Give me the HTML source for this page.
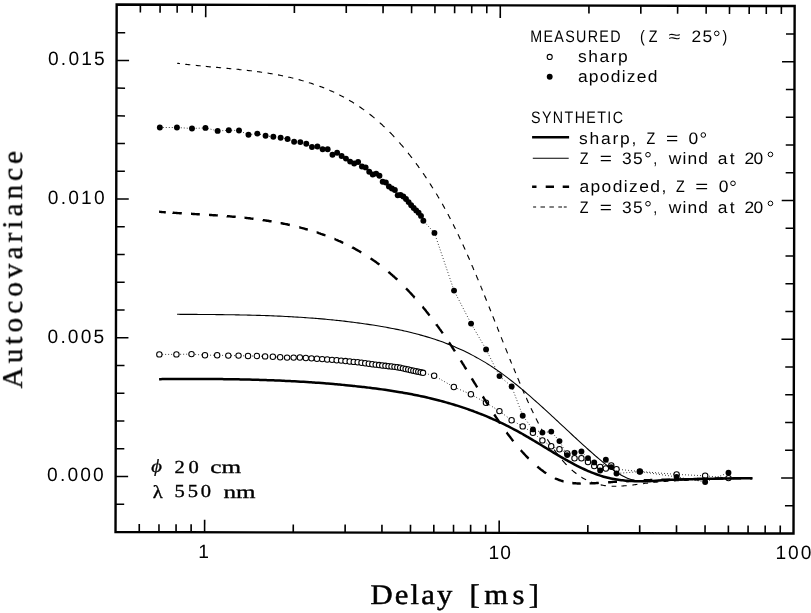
<!DOCTYPE html>
<html><head><meta charset="utf-8"><title>Autocovariance vs Delay</title>
<style>html,body{margin:0;padding:0;background:#fff;width:811px;height:613px;overflow:hidden}
svg{display:block}
.t{opacity:0.999}
.s{font-family:"Liberation Sans",sans-serif}
.r{font-family:"Liberation Serif",serif}
</style></head><body>
<svg width="811" height="613" viewBox="0 0 811 613"><rect width="811" height="613" fill="#fff"/><polygon points="116.67,4.56 794.65,6.02 793.51,533.52 115.53,532.06" fill="none" stroke="#000" stroke-width="2.4" stroke-linejoin="miter"/><g stroke="#000" stroke-linecap="butt"><line x1="140.38" y1="4.61" x2="140.36" y2="12.61" stroke-width="1.6"/><line x1="139.25" y1="532.11" x2="139.26" y2="524.11" stroke-width="1.6"/><line x1="160.1" y1="4.66" x2="160.08" y2="12.66" stroke-width="1.6"/><line x1="158.97" y1="532.15" x2="158.98" y2="524.15" stroke-width="1.6"/><line x1="177.18" y1="4.69" x2="177.16" y2="12.69" stroke-width="1.6"/><line x1="176.05" y1="532.19" x2="176.06" y2="524.19" stroke-width="1.6"/><line x1="192.25" y1="4.72" x2="192.23" y2="12.72" stroke-width="1.6"/><line x1="191.12" y1="532.22" x2="191.13" y2="524.22" stroke-width="1.6"/><line x1="205.73" y1="4.75" x2="205.7" y2="17.25" stroke-width="1.6"/><line x1="204.59" y1="532.25" x2="204.62" y2="519.75" stroke-width="1.6"/><line x1="294.4" y1="4.94" x2="294.38" y2="12.94" stroke-width="1.6"/><line x1="293.26" y1="532.44" x2="293.28" y2="524.44" stroke-width="1.6"/><line x1="346.27" y1="5.06" x2="346.25" y2="13.06" stroke-width="1.6"/><line x1="345.13" y1="532.55" x2="345.15" y2="524.55" stroke-width="1.6"/><line x1="383.07" y1="5.13" x2="383.05" y2="13.13" stroke-width="1.6"/><line x1="381.94" y1="532.63" x2="381.95" y2="524.63" stroke-width="1.6"/><line x1="411.62" y1="5.2" x2="411.6" y2="13.2" stroke-width="1.6"/><line x1="410.48" y1="532.69" x2="410.5" y2="524.69" stroke-width="1.6"/><line x1="434.94" y1="5.25" x2="434.92" y2="13.25" stroke-width="1.6"/><line x1="433.81" y1="532.74" x2="433.82" y2="524.74" stroke-width="1.6"/><line x1="454.66" y1="5.29" x2="454.64" y2="13.29" stroke-width="1.6"/><line x1="453.53" y1="532.79" x2="453.54" y2="524.79" stroke-width="1.6"/><line x1="471.74" y1="5.33" x2="471.72" y2="13.33" stroke-width="1.6"/><line x1="470.61" y1="532.82" x2="470.62" y2="524.82" stroke-width="1.6"/><line x1="486.81" y1="5.36" x2="486.79" y2="13.36" stroke-width="1.6"/><line x1="485.67" y1="532.86" x2="485.69" y2="524.86" stroke-width="1.6"/><line x1="500.29" y1="5.39" x2="500.26" y2="17.89" stroke-width="1.6"/><line x1="499.15" y1="532.89" x2="499.18" y2="520.39" stroke-width="1.6"/><line x1="588.96" y1="5.58" x2="588.94" y2="13.58" stroke-width="1.6"/><line x1="587.82" y1="533.08" x2="587.84" y2="525.08" stroke-width="1.6"/><line x1="640.83" y1="5.69" x2="640.81" y2="13.69" stroke-width="1.6"/><line x1="639.69" y1="533.19" x2="639.71" y2="525.19" stroke-width="1.6"/><line x1="677.63" y1="5.77" x2="677.61" y2="13.77" stroke-width="1.6"/><line x1="676.5" y1="533.27" x2="676.51" y2="525.27" stroke-width="1.6"/><line x1="706.18" y1="5.83" x2="706.16" y2="13.83" stroke-width="1.6"/><line x1="705.04" y1="533.33" x2="705.06" y2="525.33" stroke-width="1.6"/><line x1="729.5" y1="5.88" x2="729.48" y2="13.88" stroke-width="1.6"/><line x1="728.36" y1="533.38" x2="728.38" y2="525.38" stroke-width="1.6"/><line x1="749.22" y1="5.92" x2="749.2" y2="13.92" stroke-width="1.6"/><line x1="748.08" y1="533.42" x2="748.1" y2="525.42" stroke-width="1.6"/><line x1="766.3" y1="5.96" x2="766.28" y2="13.96" stroke-width="1.6"/><line x1="765.17" y1="533.46" x2="765.18" y2="525.46" stroke-width="1.6"/><line x1="781.37" y1="5.99" x2="781.35" y2="13.99" stroke-width="1.6"/><line x1="780.23" y1="533.49" x2="780.25" y2="525.49" stroke-width="1.6"/><line x1="115.59" y1="504.23" x2="124.19" y2="504.25" stroke-width="1.5"/><line x1="793.57" y1="505.69" x2="784.97" y2="505.67" stroke-width="1.5"/><line x1="115.65" y1="476.49" x2="128.15" y2="476.52" stroke-width="1.5"/><line x1="793.63" y1="477.95" x2="781.13" y2="477.92" stroke-width="1.5"/><line x1="115.71" y1="448.75" x2="124.31" y2="448.77" stroke-width="1.5"/><line x1="793.69" y1="450.21" x2="785.09" y2="450.19" stroke-width="1.5"/><line x1="115.77" y1="421.01" x2="124.37" y2="421.03" stroke-width="1.5"/><line x1="793.75" y1="422.47" x2="785.15" y2="422.45" stroke-width="1.5"/><line x1="115.83" y1="393.27" x2="124.43" y2="393.29" stroke-width="1.5"/><line x1="793.81" y1="394.73" x2="785.21" y2="394.71" stroke-width="1.5"/><line x1="115.89" y1="365.53" x2="124.49" y2="365.55" stroke-width="1.5"/><line x1="793.87" y1="366.98" x2="785.27" y2="366.97" stroke-width="1.5"/><line x1="115.95" y1="337.79" x2="128.45" y2="337.81" stroke-width="1.5"/><line x1="793.93" y1="339.24" x2="781.43" y2="339.22" stroke-width="1.5"/><line x1="116.01" y1="310.05" x2="124.61" y2="310.06" stroke-width="1.5"/><line x1="793.99" y1="311.5" x2="785.39" y2="311.48" stroke-width="1.5"/><line x1="116.07" y1="282.3" x2="124.67" y2="282.32" stroke-width="1.5"/><line x1="794.05" y1="283.76" x2="785.45" y2="283.74" stroke-width="1.5"/><line x1="116.13" y1="254.56" x2="124.73" y2="254.58" stroke-width="1.5"/><line x1="794.11" y1="256.02" x2="785.51" y2="256" stroke-width="1.5"/><line x1="116.19" y1="226.82" x2="124.79" y2="226.84" stroke-width="1.5"/><line x1="794.17" y1="228.28" x2="785.57" y2="228.26" stroke-width="1.5"/><line x1="116.25" y1="199.08" x2="128.75" y2="199.11" stroke-width="1.5"/><line x1="794.23" y1="200.54" x2="781.73" y2="200.51" stroke-width="1.5"/><line x1="116.31" y1="171.34" x2="124.91" y2="171.36" stroke-width="1.5"/><line x1="794.29" y1="172.8" x2="785.69" y2="172.78" stroke-width="1.5"/><line x1="116.37" y1="143.6" x2="124.97" y2="143.62" stroke-width="1.5"/><line x1="794.35" y1="145.06" x2="785.75" y2="145.04" stroke-width="1.5"/><line x1="116.43" y1="115.86" x2="125.03" y2="115.88" stroke-width="1.5"/><line x1="794.41" y1="117.32" x2="785.81" y2="117.3" stroke-width="1.5"/><line x1="116.49" y1="88.12" x2="125.09" y2="88.14" stroke-width="1.5"/><line x1="794.47" y1="89.58" x2="785.87" y2="89.56" stroke-width="1.5"/><line x1="116.55" y1="60.38" x2="129.05" y2="60.4" stroke-width="1.5"/><line x1="794.53" y1="61.83" x2="782.03" y2="61.81" stroke-width="1.5"/><line x1="116.61" y1="32.64" x2="125.21" y2="32.65" stroke-width="1.5"/><line x1="794.59" y1="34.09" x2="785.99" y2="34.07" stroke-width="1.5"/></g><polyline points="159.35,354.4 176.43,354.4 191.5,354.1 204.97,355.2 217.17,355.2 228.3,355.6 238.54,355.6 248.02,356 256.84,356 265.1,356.4 272.85,356.8 280.16,357.2 287.08,357.6 293.64,357.6 299.88,357.53 305.83,357.95 311.52,358.35 316.96,358.73 322.18,359.12 327.2,359.5 332.03,359.87 336.68,360.22 341.17,360.62 345.5,361.06 349.7,361.49 353.76,361.9 357.69,362.3 361.51,362.77 365.22,363.26 368.82,363.74 372.32,364.2 375.74,364.65 379.06,365.08 382.3,365.45 385.45,365.82 388.54,366.18 391.54,366.53 394.49,366.87 397.36,367.2 400.17,367.74 402.92,368.36 405.61,368.96 408.25,369.55 410.83,370.13 413.36,370.69 415.85,371.25 418.28,371.79 420.67,372.31 423.02,372.82 434.14,375.7 453.84,387 470.9,394.3 485.95,402.7 499.41,411.1 511.59,420.2 522.71,426.4 532.93,432.8 542.4,440.4 551.21,446.3 559.46,449.2 567.2,453.4 574.51,458.3 581.42,458.3 587.98,462 594.21,466.1 600.16,466.9 605.84,468.5 611.29,465.5 616.51,469.2 639.83,471.5 676.62,474.4 705.16,475.8 728.48,478.1" fill="none" stroke="#000" stroke-width="1.0" stroke-dasharray="0.75 2.25"  stroke-linecap="butt"/><polyline points="159.84,127.5 176.92,127.5 191.98,128.5 205.46,127.9 217.65,130.9 228.78,130.3 239.02,130.5 248.49,134.8 257.32,133.6 265.57,135.8 273.33,136.8 280.64,137.8 287.55,139 294.11,141.7 300.35,142.1 306.29,143.8 311.97,147 317.42,146.5 322.63,149.2 327.65,149.2 332.47,154.7 337.13,152.7 341.61,156 345.94,158.6 350.13,161.6 354.18,163.5 358.12,162 361.93,166.5 365.64,167.4 369.23,171.8 372.73,174.5 376.15,173.6 379.46,175.8 382.69,181.7 385.85,182.5 388.92,186.5 391.93,188.5 394.87,190 397.73,195.3 400.54,195 403.29,196.5 405.98,199 408.61,202.1 411.19,205.2 413.71,208 416.19,210.4 418.62,212.7 421.01,215.9 423.34,220.8 434.45,232.9 454.05,290.6 471.06,323.6 486.07,349.4 499.49,376.1 511.66,386.5 522.73,415.7 532.94,429.4 542.41,432.6 551.24,431.6 559.48,441.1 567.2,455.1 574.52,452.6 581.44,451.5 587.98,458.1 594.22,462.4 600.15,470.5 605.86,459.8 611.29,467.1 616.5,473.5 639.83,471.6 676.62,476.9 705.15,482 728.49,472.7" fill="none" stroke="#000" stroke-width="1.0" stroke-dasharray="0.75 2.25"  stroke-linecap="butt"/><g fill="#fff" stroke="#000" stroke-width="1.05"><circle cx="159.35" cy="354.4" r="2.7"/><circle cx="176.43" cy="354.4" r="2.7"/><circle cx="191.5" cy="354.1" r="2.7"/><circle cx="204.97" cy="355.2" r="2.7"/><circle cx="217.17" cy="355.2" r="2.7"/><circle cx="228.3" cy="355.6" r="2.7"/><circle cx="238.54" cy="355.6" r="2.7"/><circle cx="248.02" cy="356" r="2.7"/><circle cx="256.84" cy="356" r="2.7"/><circle cx="265.1" cy="356.4" r="2.7"/><circle cx="272.85" cy="356.8" r="2.7"/><circle cx="280.16" cy="357.2" r="2.7"/><circle cx="287.08" cy="357.6" r="2.7"/><circle cx="293.64" cy="357.6" r="2.7"/><circle cx="299.88" cy="357.53" r="2.7"/><circle cx="305.83" cy="357.95" r="2.7"/><circle cx="311.52" cy="358.35" r="2.7"/><circle cx="316.96" cy="358.73" r="2.7"/><circle cx="322.18" cy="359.12" r="2.7"/><circle cx="327.2" cy="359.5" r="2.7"/><circle cx="332.03" cy="359.87" r="2.7"/><circle cx="336.68" cy="360.22" r="2.7"/><circle cx="341.17" cy="360.62" r="2.7"/><circle cx="345.5" cy="361.06" r="2.7"/><circle cx="349.7" cy="361.49" r="2.7"/><circle cx="353.76" cy="361.9" r="2.7"/><circle cx="357.69" cy="362.3" r="2.7"/><circle cx="361.51" cy="362.77" r="2.7"/><circle cx="365.22" cy="363.26" r="2.7"/><circle cx="368.82" cy="363.74" r="2.7"/><circle cx="372.32" cy="364.2" r="2.7"/><circle cx="375.74" cy="364.65" r="2.7"/><circle cx="379.06" cy="365.08" r="2.7"/><circle cx="382.3" cy="365.45" r="2.7"/><circle cx="385.45" cy="365.82" r="2.7"/><circle cx="388.54" cy="366.18" r="2.7"/><circle cx="391.54" cy="366.53" r="2.7"/><circle cx="394.49" cy="366.87" r="2.7"/><circle cx="397.36" cy="367.2" r="2.7"/><circle cx="400.17" cy="367.74" r="2.7"/><circle cx="402.92" cy="368.36" r="2.7"/><circle cx="405.61" cy="368.96" r="2.7"/><circle cx="408.25" cy="369.55" r="2.7"/><circle cx="410.83" cy="370.13" r="2.7"/><circle cx="413.36" cy="370.69" r="2.7"/><circle cx="415.85" cy="371.25" r="2.7"/><circle cx="418.28" cy="371.79" r="2.7"/><circle cx="420.67" cy="372.31" r="2.7"/><circle cx="423.02" cy="372.82" r="2.7"/><circle cx="434.14" cy="375.7" r="2.7"/><circle cx="453.84" cy="387" r="2.7"/><circle cx="470.9" cy="394.3" r="2.7"/><circle cx="485.95" cy="402.7" r="2.7"/><circle cx="499.41" cy="411.1" r="2.7"/><circle cx="511.59" cy="420.2" r="2.7"/><circle cx="522.71" cy="426.4" r="2.7"/><circle cx="532.93" cy="432.8" r="2.7"/><circle cx="542.4" cy="440.4" r="2.7"/><circle cx="551.21" cy="446.3" r="2.7"/><circle cx="559.46" cy="449.2" r="2.7"/><circle cx="567.2" cy="453.4" r="2.7"/><circle cx="574.51" cy="458.3" r="2.7"/><circle cx="581.42" cy="458.3" r="2.7"/><circle cx="587.98" cy="462" r="2.7"/><circle cx="594.21" cy="466.1" r="2.7"/><circle cx="600.16" cy="466.9" r="2.7"/><circle cx="605.84" cy="468.5" r="2.7"/><circle cx="611.29" cy="465.5" r="2.7"/><circle cx="616.51" cy="469.2" r="2.7"/><circle cx="639.83" cy="471.5" r="2.7"/><circle cx="676.62" cy="474.4" r="2.7"/><circle cx="705.16" cy="475.8" r="2.7"/><circle cx="728.48" cy="478.1" r="2.7"/></g><path d="M159.1,379.15C159.6,379.14 161.11,379.13 162.11,379.12C163.11,379.11 164.12,379.11 165.12,379.1C166.13,379.09 167.13,379.08 168.13,379.07C169.14,379.07 170.14,379.06 171.14,379.05C172.15,379.05 173.15,379.04 174.16,379.04C175.16,379.03 176.16,379.02 177.17,379.02C178.17,379.01 179.17,379.01 180.18,379.01C181.18,379 182.19,379 183.19,378.99C184.19,378.99 185.2,378.99 186.2,378.98C187.2,378.98 188.21,378.98 189.21,378.98C190.22,378.98 191.22,378.98 192.22,378.98C193.23,378.98 194.23,378.97 195.23,378.98C196.24,378.98 197.24,378.98 198.25,378.98C199.25,378.98 200.25,378.98 201.26,378.98C202.26,378.99 203.26,378.99 204.27,378.99C205.27,379 206.27,379 207.28,379.01C208.28,379.01 209.29,379.02 210.29,379.02C211.29,379.03 212.3,379.04 213.3,379.04C214.3,379.05 215.31,379.06 216.31,379.07C217.32,379.07 218.32,379.08 219.32,379.09C220.33,379.1 221.33,379.11 222.33,379.12C223.34,379.14 224.34,379.15 225.35,379.16C226.35,379.17 227.35,379.19 228.36,379.2C229.36,379.21 230.36,379.23 231.37,379.24C232.37,379.26 233.38,379.27 234.38,379.29C235.38,379.31 236.39,379.33 237.39,379.34C238.39,379.36 239.4,379.38 240.4,379.4C241.41,379.42 242.41,379.44 243.41,379.46C244.42,379.49 245.42,379.51 246.42,379.53C247.43,379.55 248.43,379.58 249.44,379.6C250.44,379.63 251.44,379.65 252.45,379.68C253.45,379.71 254.45,379.73 255.46,379.76C256.46,379.79 257.46,379.82 258.47,379.85C259.47,379.88 260.48,379.91 261.48,379.94C262.48,379.97 263.49,380.01 264.49,380.04C265.49,380.07 266.5,380.11 267.5,380.14C268.51,380.18 269.51,380.22 270.51,380.25C271.52,380.29 272.52,380.33 273.52,380.37C274.53,380.41 275.53,380.45 276.54,380.49C277.54,380.53 278.54,380.57 279.55,380.62C280.55,380.66 281.55,380.71 282.56,380.75C283.56,380.8 284.57,380.84 285.57,380.89C286.57,380.94 287.58,380.99 288.58,381.04C289.58,381.09 290.59,381.14 291.59,381.19C292.6,381.24 293.6,381.29 294.6,381.35C295.61,381.4 296.61,381.46 297.61,381.51C298.62,381.57 299.62,381.63 300.62,381.69C301.63,381.75 302.63,381.81 303.64,381.87C304.64,381.93 305.64,381.99 306.65,382.05C307.65,382.12 308.65,382.18 309.66,382.25C310.66,382.31 311.67,382.38 312.67,382.45C313.67,382.52 314.68,382.59 315.68,382.66C316.68,382.73 317.69,382.8 318.69,382.87C319.7,382.95 320.7,383.02 321.7,383.1C322.71,383.17 323.71,383.25 324.71,383.33C325.72,383.41 326.72,383.49 327.73,383.57C328.73,383.65 329.73,383.73 330.74,383.82C331.74,383.9 332.74,383.98 333.75,384.07C334.75,384.16 335.76,384.24 336.76,384.33C337.76,384.42 338.77,384.51 339.77,384.6C340.77,384.7 341.78,384.79 342.78,384.88C343.78,384.98 344.79,385.08 345.79,385.17C346.8,385.27 347.8,385.37 348.8,385.47C349.81,385.57 350.81,385.67 351.81,385.78C352.82,385.88 353.82,385.98 354.83,386.09C355.83,386.2 356.83,386.3 357.84,386.41C358.84,386.52 359.84,386.63 360.85,386.75C361.85,386.86 362.86,386.97 363.86,387.09C364.86,387.2 365.87,387.32 366.87,387.44C367.87,387.56 368.88,387.68 369.88,387.8C370.89,387.93 371.89,388.05 372.89,388.18C373.9,388.3 374.9,388.43 375.9,388.56C376.91,388.69 377.91,388.83 378.92,388.96C379.92,389.09 380.92,389.23 381.93,389.37C382.93,389.51 383.93,389.65 384.94,389.8C385.94,389.94 386.95,390.09 387.95,390.24C388.95,390.38 389.96,390.54 390.96,390.69C391.96,390.84 392.97,391 393.97,391.16C394.97,391.32 395.98,391.48 396.98,391.65C397.99,391.81 398.99,391.98 399.99,392.15C401,392.32 402,392.49 403,392.67C404.01,392.84 405.01,393.02 406.02,393.2C407.02,393.39 408.02,393.57 409.03,393.76C410.03,393.95 411.03,394.14 412.04,394.34C413.04,394.53 414.05,394.73 415.05,394.93C416.05,395.13 417.06,395.34 418.06,395.55C419.06,395.76 420.07,395.97 421.07,396.18C422.08,396.4 423.08,396.62 424.08,396.84C425.09,397.06 426.09,397.29 427.09,397.52C428.1,397.75 429.1,397.99 430.11,398.22C431.11,398.46 432.11,398.7 433.12,398.95C434.12,399.2 435.12,399.45 436.13,399.7C437.13,399.95 438.13,400.21 439.14,400.47C440.14,400.74 441.15,401 442.15,401.27C443.15,401.54 444.16,401.82 445.16,402.1C446.16,402.38 447.17,402.66 448.17,402.95C449.18,403.24 450.18,403.53 451.18,403.83C452.19,404.13 453.19,404.43 454.19,404.74C455.2,405.04 456.2,405.35 457.21,405.67C458.21,405.99 459.21,406.31 460.22,406.63C461.22,406.96 462.22,407.29 463.23,407.63C464.23,407.96 465.24,408.3 466.24,408.65C467.24,409 468.25,409.35 469.25,409.7C470.25,410.06 471.26,410.42 472.26,410.79C473.27,411.15 474.27,411.53 475.27,411.9C476.28,412.28 477.28,412.66 478.28,413.05C479.29,413.44 480.29,413.83 481.29,414.23C482.3,414.63 483.3,415.04 484.31,415.45C485.31,415.86 486.31,416.28 487.32,416.7C488.32,417.12 489.32,417.55 490.33,417.98C491.33,418.42 492.34,418.86 493.34,419.3C494.34,419.75 495.35,420.2 496.35,420.66C497.35,421.12 498.36,421.58 499.36,422.05C500.37,422.52 501.37,423 502.37,423.48C503.38,423.96 504.38,424.45 505.38,424.95C506.39,425.44 507.39,425.95 508.4,426.45C509.4,426.96 510.4,427.48 511.41,428C512.41,428.52 513.41,429.05 514.42,429.58C515.42,430.12 516.43,430.66 517.43,431.21C518.43,431.76 519.44,432.31 520.44,432.87C521.44,433.44 522.45,434 523.45,434.58C524.45,435.15 525.46,435.73 526.46,436.31C527.47,436.9 528.47,437.48 529.47,438.08C530.48,438.67 531.48,439.26 532.48,439.86C533.49,440.46 534.49,441.06 535.5,441.66C536.5,442.27 537.5,442.87 538.51,443.48C539.51,444.09 540.51,444.7 541.52,445.3C542.52,445.91 543.53,446.52 544.53,447.13C545.53,447.74 546.54,448.35 547.54,448.96C548.54,449.57 549.55,450.17 550.55,450.78C551.56,451.38 552.56,451.99 553.56,452.59C554.57,453.19 555.57,453.79 556.57,454.38C557.58,454.98 558.58,455.57 559.59,456.15C560.59,456.74 561.59,457.32 562.6,457.9C563.6,458.48 564.6,459.05 565.61,459.62C566.61,460.18 567.62,460.74 568.62,461.3C569.62,461.85 570.63,462.4 571.63,462.94C572.63,463.48 573.64,464.01 574.64,464.53C575.64,465.06 576.65,465.57 577.65,466.08C578.66,466.59 579.66,467.08 580.66,467.57C581.67,468.06 582.67,468.54 583.67,469C584.68,469.47 585.68,469.93 586.69,470.37C587.69,470.82 588.69,471.25 589.7,471.67C590.7,472.09 591.7,472.5 592.71,472.89C593.71,473.29 594.72,473.67 595.72,474.04C596.72,474.41 597.73,474.76 598.73,475.1C599.73,475.44 600.74,475.77 601.74,476.08C602.75,476.38 603.75,476.68 604.75,476.96C605.76,477.23 606.76,477.49 607.76,477.74C608.77,477.99 609.77,478.21 610.78,478.43C611.78,478.64 612.78,478.84 613.79,479.03C614.79,479.22 615.79,479.39 616.8,479.55C617.8,479.71 618.8,479.86 619.81,479.99C620.81,480.13 621.82,480.25 622.82,480.36C623.82,480.47 624.83,480.57 625.83,480.66C626.83,480.75 627.84,480.83 628.84,480.9C629.85,480.97 630.85,481.03 631.85,481.09C632.86,481.14 633.86,481.18 634.86,481.22C635.87,481.26 636.87,481.29 637.88,481.31C638.88,481.33 639.88,481.35 640.89,481.35C641.89,481.36 642.89,481.36 643.9,481.34C644.9,481.33 645.91,481.3 646.91,481.27C647.91,481.23 648.92,481.19 649.92,481.14C650.92,481.09 651.93,481.03 652.93,480.97C653.94,480.9 654.94,480.84 655.94,480.77C656.95,480.7 657.95,480.63 658.95,480.56C659.96,480.49 660.96,480.41 661.96,480.35C662.97,480.28 663.97,480.21 664.98,480.15C665.98,480.09 666.98,480.03 667.99,479.98C668.99,479.93 669.99,479.88 671,479.83C672,479.78 673.01,479.74 674.01,479.7C675.01,479.66 676.02,479.63 677.02,479.59C678.02,479.56 679.03,479.53 680.03,479.5C681.04,479.47 682.04,479.44 683.04,479.41C684.05,479.38 685.05,479.35 686.05,479.32C687.06,479.29 688.06,479.26 689.07,479.23C690.07,479.2 691.07,479.17 692.08,479.15C693.08,479.12 694.08,479.1 695.09,479.07C696.09,479.05 697.1,479.02 698.1,479C699.1,478.97 700.11,478.95 701.11,478.92C702.11,478.9 703.12,478.87 704.12,478.85C705.13,478.82 706.13,478.8 707.13,478.77C708.14,478.75 709.14,478.72 710.14,478.7C711.15,478.68 712.15,478.67 713.15,478.65C714.16,478.64 715.16,478.62 716.17,478.61C717.17,478.59 718.17,478.58 719.18,478.56C720.18,478.55 721.18,478.53 722.19,478.52C723.19,478.5 724.2,478.49 725.2,478.47C726.2,478.46 727.21,478.44 728.21,478.43C729.21,478.41 730.22,478.4 731.22,478.39C732.23,478.38 733.23,478.37 734.23,478.36C735.24,478.35 736.24,478.34 737.24,478.34C738.25,478.33 739.25,478.32 740.26,478.31C741.26,478.3 742.26,478.29 743.27,478.28C744.27,478.27 745.27,478.26 746.28,478.25C747.28,478.25 748.29,478.24 749.29,478.23C750.29,478.22 751.8,478.2 752.3,478.2" fill="none" stroke="#000" stroke-width="2.5" stroke-linejoin="round"/><path d="M177.1,314.31C177.6,314.31 179.11,314.32 180.11,314.33C181.12,314.33 182.12,314.34 183.12,314.34C184.13,314.35 185.13,314.35 186.13,314.36C187.14,314.36 188.14,314.37 189.15,314.38C190.15,314.38 191.15,314.39 192.16,314.39C193.16,314.4 194.17,314.4 195.17,314.41C196.17,314.42 197.18,314.42 198.18,314.43C199.18,314.44 200.19,314.44 201.19,314.45C202.2,314.46 203.2,314.46 204.2,314.47C205.21,314.48 206.21,314.49 207.22,314.49C208.22,314.5 209.22,314.51 210.23,314.52C211.23,314.53 212.23,314.54 213.24,314.55C214.24,314.56 215.25,314.57 216.25,314.58C217.25,314.59 218.26,314.6 219.26,314.61C220.27,314.62 221.27,314.63 222.27,314.65C223.28,314.66 224.28,314.67 225.28,314.68C226.29,314.7 227.29,314.71 228.3,314.72C229.3,314.74 230.3,314.75 231.31,314.77C232.31,314.79 233.32,314.8 234.32,314.82C235.32,314.84 236.33,314.85 237.33,314.87C238.33,314.89 239.34,314.91 240.34,314.93C241.35,314.95 242.35,314.97 243.35,314.99C244.36,315.01 245.36,315.03 246.36,315.06C247.37,315.08 248.37,315.1 249.38,315.13C250.38,315.15 251.38,315.18 252.39,315.2C253.39,315.23 254.4,315.26 255.4,315.29C256.4,315.31 257.41,315.34 258.41,315.37C259.41,315.4 260.42,315.43 261.42,315.47C262.43,315.5 263.43,315.53 264.43,315.56C265.44,315.6 266.44,315.63 267.45,315.67C268.45,315.71 269.45,315.74 270.46,315.78C271.46,315.82 272.46,315.86 273.47,315.9C274.47,315.94 275.48,315.98 276.48,316.02C277.48,316.07 278.49,316.11 279.49,316.16C280.5,316.2 281.5,316.25 282.5,316.3C283.51,316.35 284.51,316.39 285.51,316.44C286.52,316.5 287.52,316.55 288.53,316.6C289.53,316.65 290.53,316.71 291.54,316.76C292.54,316.82 293.55,316.88 294.55,316.94C295.55,316.99 296.56,317.05 297.56,317.12C298.56,317.18 299.57,317.24 300.57,317.3C301.58,317.37 302.58,317.44 303.58,317.5C304.59,317.57 305.59,317.64 306.6,317.71C307.6,317.78 308.6,317.85 309.61,317.93C310.61,318 311.61,318.08 312.62,318.15C313.62,318.23 314.63,318.31 315.63,318.39C316.63,318.47 317.64,318.55 318.64,318.64C319.65,318.72 320.65,318.81 321.65,318.89C322.66,318.98 323.66,319.07 324.66,319.16C325.67,319.25 326.67,319.34 327.68,319.44C328.68,319.53 329.68,319.63 330.69,319.73C331.69,319.83 332.7,319.93 333.7,320.03C334.7,320.13 335.71,320.23 336.71,320.34C337.71,320.45 338.72,320.55 339.72,320.66C340.73,320.77 341.73,320.89 342.73,321C343.74,321.11 344.74,321.23 345.75,321.35C346.75,321.47 347.75,321.59 348.76,321.71C349.76,321.83 350.76,321.95 351.77,322.08C352.77,322.21 353.78,322.34 354.78,322.47C355.78,322.6 356.79,322.73 357.79,322.87C358.79,323 359.8,323.14 360.8,323.28C361.81,323.42 362.81,323.56 363.81,323.7C364.82,323.85 365.82,323.99 366.83,324.14C367.83,324.29 368.83,324.44 369.84,324.6C370.84,324.75 371.84,324.91 372.85,325.06C373.85,325.22 374.86,325.38 375.86,325.55C376.86,325.71 377.87,325.88 378.87,326.04C379.88,326.21 380.88,326.38 381.88,326.56C382.89,326.73 383.89,326.9 384.89,327.08C385.9,327.26 386.9,327.44 387.91,327.63C388.91,327.81 389.91,328 390.92,328.19C391.92,328.38 392.93,328.58 393.93,328.77C394.93,328.97 395.94,329.17 396.94,329.38C397.94,329.58 398.95,329.79 399.95,330.01C400.96,330.22 401.96,330.43 402.96,330.66C403.97,330.88 404.97,331.1 405.98,331.33C406.98,331.56 407.98,331.79 408.99,332.03C409.99,332.27 410.99,332.51 412,332.76C413,333.01 414.01,333.26 415.01,333.52C416.01,333.78 417.02,334.04 418.02,334.31C419.03,334.57 420.03,334.85 421.03,335.12C422.04,335.4 423.04,335.69 424.04,335.98C425.05,336.27 426.05,336.56 427.06,336.86C428.06,337.16 429.06,337.47 430.07,337.78C431.07,338.1 432.08,338.42 433.08,338.74C434.08,339.07 435.09,339.4 436.09,339.74C437.09,340.08 438.1,340.42 439.1,340.77C440.11,341.12 441.11,341.48 442.11,341.85C443.12,342.21 444.12,342.59 445.13,342.96C446.13,343.34 447.13,343.73 448.14,344.13C449.14,344.52 450.14,344.92 451.15,345.33C452.15,345.74 453.16,346.16 454.16,346.58C455.16,347.01 456.17,347.44 457.17,347.88C458.18,348.32 459.18,348.77 460.18,349.22C461.19,349.68 462.19,350.15 463.19,350.62C464.2,351.09 465.2,351.58 466.21,352.07C467.21,352.56 468.21,353.06 469.22,353.57C470.22,354.07 471.22,354.59 472.23,355.12C473.23,355.64 474.24,356.18 475.24,356.73C476.24,357.27 477.25,357.82 478.25,358.39C479.26,358.95 480.26,359.53 481.26,360.11C482.27,360.69 483.27,361.29 484.27,361.89C485.28,362.49 486.28,363.11 487.29,363.73C488.29,364.35 489.29,364.99 490.3,365.63C491.3,366.27 492.31,366.93 493.31,367.59C494.31,368.26 495.32,368.93 496.32,369.62C497.32,370.31 498.33,371.01 499.33,371.71C500.34,372.42 501.34,373.14 502.34,373.87C503.35,374.6 504.35,375.34 505.36,376.09C506.36,376.84 507.36,377.6 508.37,378.37C509.37,379.13 510.37,379.91 511.38,380.7C512.38,381.48 513.39,382.28 514.39,383.08C515.39,383.88 516.4,384.7 517.4,385.51C518.41,386.33 519.41,387.16 520.41,387.99C521.42,388.83 522.42,389.67 523.42,390.52C524.43,391.36 525.43,392.22 526.44,393.08C527.44,393.94 528.44,394.81 529.45,395.68C530.45,396.55 531.46,397.43 532.46,398.31C533.46,399.19 534.47,400.08 535.47,400.97C536.47,401.87 537.48,402.77 538.48,403.67C539.49,404.57 540.49,405.47 541.49,406.38C542.5,407.29 543.5,408.21 544.51,409.12C545.51,410.04 546.51,410.96 547.52,411.88C548.52,412.8 549.52,413.73 550.53,414.65C551.53,415.58 552.54,416.51 553.54,417.44C554.54,418.37 555.55,419.3 556.55,420.24C557.56,421.17 558.56,422.1 559.56,423.04C560.57,423.97 561.57,424.91 562.57,425.84C563.58,426.78 564.58,427.72 565.59,428.65C566.59,429.59 567.59,430.52 568.6,431.46C569.6,432.39 570.61,433.32 571.61,434.25C572.61,435.19 573.62,436.12 574.62,437.04C575.62,437.97 576.63,438.9 577.63,439.82C578.64,440.75 579.64,441.67 580.64,442.59C581.65,443.51 582.65,444.42 583.65,445.33C584.66,446.25 585.66,447.15 586.67,448.06C587.67,448.96 588.67,449.87 589.68,450.76C590.68,451.66 591.69,452.55 592.69,453.44C593.69,454.32 594.7,455.21 595.7,456.08C596.7,456.95 597.71,457.82 598.71,458.67C599.72,459.53 600.72,460.37 601.72,461.2C602.73,462.03 603.73,462.86 604.74,463.66C605.74,464.46 606.74,465.25 607.75,466.02C608.75,466.79 609.75,467.54 610.76,468.27C611.76,469 612.77,469.71 613.77,470.4C614.77,471.09 615.78,471.75 616.78,472.39C617.79,473.03 618.79,473.64 619.79,474.23C620.8,474.81 621.8,475.37 622.8,475.9C623.81,476.42 624.81,476.92 625.82,477.38C626.82,477.84 627.82,478.28 628.83,478.67C629.83,479.06 630.84,479.42 631.84,479.74C632.84,480.06 633.85,480.35 634.85,480.59C635.85,480.83 636.86,481.03 637.86,481.19C638.87,481.34 639.87,481.45 640.87,481.52C641.88,481.59 642.88,481.61 643.89,481.6C644.89,481.59 645.89,481.54 646.9,481.48C647.9,481.42 648.9,481.32 649.91,481.23C650.91,481.14 651.92,481.02 652.92,480.92C653.92,480.81 654.93,480.7 655.93,480.6C656.94,480.5 657.94,480.41 658.94,480.33C659.95,480.25 660.95,480.18 661.95,480.12C662.96,480.06 663.96,480.01 664.97,479.96C665.97,479.92 666.97,479.89 667.98,479.86C668.98,479.82 669.99,479.8 670.99,479.77C671.99,479.74 673,479.71 674,479.68C675,479.65 676.01,479.62 677.01,479.59C678.02,479.56 679.02,479.53 680.02,479.5C681.03,479.47 682.03,479.44 683.04,479.41C684.04,479.38 685.04,479.35 686.05,479.32C687.05,479.29 688.05,479.26 689.06,479.23C690.06,479.2 691.07,479.17 692.07,479.15C693.07,479.12 694.08,479.1 695.08,479.07C696.08,479.05 697.09,479.02 698.09,479C699.1,478.97 700.1,478.95 701.1,478.92C702.11,478.9 703.11,478.87 704.12,478.85C705.12,478.82 706.12,478.8 707.13,478.77C708.13,478.75 709.13,478.72 710.14,478.7C711.14,478.68 712.15,478.67 713.15,478.65C714.15,478.64 715.16,478.62 716.16,478.61C717.17,478.59 718.17,478.58 719.17,478.56C720.18,478.55 721.18,478.53 722.18,478.52C723.19,478.5 724.19,478.49 725.2,478.47C726.2,478.46 727.2,478.44 728.21,478.43C729.21,478.41 730.22,478.4 731.22,478.39C732.22,478.38 733.23,478.37 734.23,478.36C735.23,478.35 736.24,478.34 737.24,478.34C738.25,478.33 739.25,478.32 740.25,478.31C741.26,478.3 742.26,478.29 743.27,478.28C744.27,478.27 745.27,478.26 746.28,478.25C747.28,478.25 748.28,478.24 749.29,478.23C750.29,478.22 751.8,478.2 752.3,478.2" fill="none" stroke="#000" stroke-width="1.1" stroke-linejoin="round"/><path d="M159.1,211.8 159.3,211.8 160.4,211.9 161.4,212.0 162.4,212.1 163.4,212.1 164.4,212.2 165.4,212.3 165.8,212.3M172.6,212.7 172.8,212.8 173.8,212.8 174.8,212.9 175.8,212.9 176.8,213.0 177.8,213.1 178.8,213.1 179.8,213.2 180.8,213.2 181.8,213.3M191.0,213.8 191.1,213.8 192.1,213.9 193.1,214.0 194.1,214.0 195.1,214.1 196.1,214.1 197.1,214.2 198.1,214.2 199.1,214.3 199.8,214.3M209.0,214.9 209.2,214.9 210.2,215.0 211.2,215.0 212.2,215.1 213.2,215.2 214.2,215.2 215.2,215.3 216.2,215.4 217.2,215.4 217.8,215.5M226.8,216.1 227.0,216.2 228.0,216.2 229.0,216.3 230.0,216.4 231.0,216.5 232.0,216.6 233.0,216.7 234.0,216.7 235.0,216.8 235.7,216.9M244.5,217.8 244.7,217.8 245.7,217.9 246.7,218.0 247.7,218.1 248.7,218.2 249.7,218.3 250.7,218.5 251.7,218.6 252.7,218.7 253.5,218.8M262.7,220.0 262.9,220.1 263.9,220.2 264.9,220.4 265.9,220.5 266.9,220.7 267.9,220.8 268.9,221.0 269.9,221.2 270.9,221.3 271.6,221.4M280.6,223.1 280.7,223.1 281.7,223.3 282.7,223.5 283.7,223.7 284.7,223.9 285.7,224.1 286.8,224.3 287.8,224.5 288.8,224.8 289.8,225.0M299.3,227.3 299.4,227.3 300.4,227.6 301.4,227.9 302.4,228.1 303.4,228.4 304.4,228.7 305.4,229.0 306.4,229.2 307.4,229.5 307.8,229.6M316.6,232.4 316.8,232.4 317.8,232.7 318.8,233.1 319.8,233.4 320.8,233.8 321.8,234.1 322.8,234.5 323.8,234.8 324.8,235.2 325.5,235.4M334.5,239.0 334.6,239.0 335.6,239.5 336.6,239.9 337.6,240.3 338.6,240.8 339.6,241.2 340.6,241.6 341.6,242.1 342.6,242.6 343.3,242.9M352.2,247.3 352.3,247.4 353.3,247.9 354.3,248.4 355.3,249.0 356.3,249.6 357.3,250.1 358.3,250.7 359.3,251.3 360.3,251.9 361.3,252.4M370.6,258.3 370.7,258.4 371.5,258.9 372.2,259.4 373.0,260.0 373.7,260.5 374.5,261.0 375.2,261.6 376.0,262.1 376.7,262.6 377.5,263.2 378.2,263.8 379.0,264.3 379.4,264.6M388.4,271.8 388.5,271.9 389.2,272.5 390.0,273.2 390.7,273.8 391.5,274.5 392.3,275.1 393.0,275.8 393.8,276.5 394.5,277.2 395.3,277.8 396.0,278.5 396.8,279.2 397.3,279.7M406.1,288.4 406.3,288.6 407.0,289.4 407.8,290.1 408.5,290.9 409.3,291.7 410.0,292.5 410.8,293.3 411.5,294.1 412.3,295.0 413.0,295.8 413.8,296.6 414.5,297.5 414.7,297.6M422.5,306.8 422.7,306.9 423.4,307.8 424.2,308.7 424.9,309.6 425.7,310.6 426.4,311.5 427.0,312.2 427.6,313.0 428.2,313.8 428.8,314.5 429.4,315.3 429.6,315.5M436.3,324.3 436.4,324.5 437.0,325.3 437.6,326.1 438.2,326.9 438.8,327.7 439.4,328.6 440.0,329.4 440.6,330.2 441.2,331.1 441.8,331.9 442.4,332.8 442.8,333.3M449.0,342.4 449.1,342.5 449.7,343.4 450.3,344.3 450.9,345.2 451.5,346.1 452.1,347.0 452.7,348.0 453.3,348.9 453.9,349.8 454.5,350.7 454.9,351.4M460.8,360.5 460.9,360.7 461.5,361.6 462.1,362.6 462.7,363.6 463.3,364.5 463.9,365.5 464.5,366.5 465.1,367.5 465.7,368.4 466.2,369.3M471.8,378.4 471.9,378.6 472.5,379.6 473.1,380.6 473.7,381.6 474.3,382.6 474.9,383.5 475.5,384.5 476.1,385.5 476.7,386.5 477.2,387.3M482.8,396.5 482.9,396.6 483.5,397.6 484.1,398.6 484.7,399.5 485.3,400.5 485.9,401.5 486.5,402.4 487.1,403.4 487.7,404.3 488.3,405.3M494.2,414.5 494.3,414.6 494.9,415.5 495.5,416.4 496.1,417.3 496.7,418.2 497.3,419.1 497.9,420.0 498.5,420.9 499.1,421.8 499.7,422.7 500.2,423.4M506.6,432.4 506.7,432.5 507.3,433.4 507.9,434.2 508.5,435.0 509.1,435.8 509.7,436.6 510.3,437.3 510.9,438.1 511.5,438.9 512.1,439.7 512.7,440.4 513.3,441.2M520.8,450.2 520.9,450.3 521.7,451.2 522.4,452.0 523.2,452.8 523.9,453.7 524.7,454.5 525.4,455.3 526.2,456.1 526.9,456.8 527.7,457.6 528.4,458.4 528.7,458.6M537.3,466.6 537.4,466.7 538.2,467.3 538.9,467.9 539.7,468.5 540.4,469.1 541.2,469.7 541.9,470.3 542.7,470.8 543.4,471.4 544.2,471.9 544.9,472.4 545.7,472.9 546.2,473.3M555.1,478.2 555.2,478.3 556.2,478.8 557.2,479.2 558.2,479.6 559.2,480.0 560.2,480.3 561.2,480.7 562.2,481.0 563.2,481.3 563.6,481.3M572.3,483.0 572.4,483.0 573.4,483.2 574.4,483.3 575.4,483.3 576.4,483.4 577.4,483.5 578.4,483.5 579.4,483.5 580.4,483.6 580.8,483.6M589.6,483.4 589.8,483.4 590.8,483.4 591.8,483.3 592.8,483.3 593.8,483.2 594.8,483.2 595.8,483.1 596.8,483.0 597.8,483.0 598.8,482.9M608.1,482.3 608.3,482.3 609.3,482.2 610.3,482.2 611.3,482.1 612.3,482.0 613.3,481.9 614.3,481.9 615.3,481.8 616.3,481.7 617.0,481.7M626.0,481.1 626.2,481.1 627.2,481.0 628.2,481.0 629.2,480.9 630.2,480.9 631.2,480.8 632.2,480.8 633.2,480.7 634.2,480.7 634.7,480.6M643.7,480.2 643.8,480.2 644.8,480.2 645.8,480.2 646.8,480.1 647.8,480.1 648.8,480.1 649.8,480.1 650.8,480.0 651.8,480.0 652.3,480.0M661.4,479.8 661.5,479.8 662.5,479.8 663.5,479.8 664.5,479.8 665.5,479.8 666.5,479.8 667.5,479.7 668.5,479.7 669.5,479.7 670.2,479.7M679.2,479.5 679.4,479.5 680.4,479.5 681.4,479.5 682.4,479.4 683.4,479.4 684.4,479.4 685.4,479.3 686.4,479.3 687.4,479.3 687.9,479.3M696.9,479.0 697.1,479.0 698.1,479.0 699.1,479.0 700.1,478.9 701.1,478.9 702.1,478.9 703.1,478.9 704.1,478.8 705.1,478.8 705.6,478.8M714.6,478.6 714.8,478.6 715.8,478.6 716.8,478.6 717.8,478.6 718.8,478.6 719.8,478.6 720.8,478.5 721.8,478.5 722.8,478.5 723.4,478.5M732.4,478.4 732.6,478.4 733.6,478.4 734.6,478.4 735.6,478.3 736.6,478.3 737.6,478.3 738.6,478.3 739.6,478.3 740.6,478.3 741.1,478.3M750.1,478.2 750.3,478.2 751.4,478.2 752.3,478.2" fill="none" stroke="#000" stroke-width="2.4" stroke-linecap="butt"/><path d="M177.1,63.2 177.3,63.3 178.4,63.4 179.4,63.5 179.9,63.6M185.3,64.2 185.4,64.3 186.4,64.4 187.4,64.5 188.4,64.6 189.4,64.7 190.3,64.8M195.8,65.4 195.9,65.4 196.9,65.5 197.9,65.6 198.9,65.7 199.9,65.8 200.6,65.9M205.8,66.4 205.9,66.4 206.9,66.5 207.9,66.6 208.9,66.7 209.9,66.8 210.8,66.8M216.1,67.3 216.3,67.3 217.3,67.4 218.3,67.5 219.3,67.6 220.3,67.7 221.1,67.8M226.5,68.3 226.6,68.3 227.6,68.4 228.6,68.5 229.6,68.6 230.6,68.7 231.3,68.7M236.5,69.2 236.6,69.2 237.6,69.3 238.6,69.4 239.6,69.6 240.6,69.7 241.5,69.7M246.8,70.3 247.0,70.3 248.0,70.5 249.0,70.6 250.0,70.7 251.0,70.8 251.8,70.9M257.1,71.6 257.3,71.6 258.3,71.8 259.3,71.9 260.3,72.0 261.3,72.2 262.1,72.3M267.6,73.1 267.8,73.1 268.8,73.3 269.8,73.5 270.8,73.6 271.8,73.8 272.6,73.9M278.0,74.9 278.1,74.9 279.1,75.1 280.1,75.3 281.1,75.5 282.1,75.7 283.0,75.9M288.3,77.0 288.5,77.1 289.5,77.3 290.5,77.5 291.5,77.8 292.5,78.0 293.3,78.2M298.6,79.6 298.8,79.6 299.8,79.9 300.8,80.2 301.8,80.5 302.8,80.7 303.6,81.0M309.0,82.6 309.1,82.7 310.1,83.0 311.1,83.3 312.1,83.6 313.1,84.0 314.0,84.2M319.5,86.2 319.6,86.3 320.6,86.6 321.7,87.0 322.7,87.4 323.7,87.8 324.2,88.0M329.3,90.2 329.5,90.2 330.5,90.7 331.5,91.1 332.5,91.6 333.5,92.0 334.2,92.3M339.3,94.8 339.5,94.9 340.5,95.4 341.5,96.0 342.5,96.5 343.5,97.0 344.0,97.3M349.2,100.2 349.3,100.3 350.3,100.9 351.3,101.5 352.3,102.1 353.3,102.7 354.0,103.2M359.2,106.5 359.3,106.6 360.3,107.3 361.3,108.0 362.3,108.7 363.3,109.4 364.2,110.0M369.5,114.1 369.7,114.2 370.7,115.0 371.7,115.8 372.7,116.6 373.7,117.4 374.5,118.1M379.8,122.7 380.0,122.9 380.9,123.7 381.6,124.3 382.3,124.9 382.9,125.6 383.6,126.2 384.3,126.8 384.6,127.1M389.6,132.0 389.7,132.2 390.4,132.8 391.1,133.5 391.7,134.2 392.4,134.9 393.1,135.6 393.7,136.3 394.4,137.0M399.3,142.4 399.4,142.6 400.1,143.3 400.7,144.1 401.4,144.9 402.1,145.6 402.7,146.4 403.4,147.2 403.6,147.5M408.0,152.8 408.1,152.9 408.7,153.8 409.4,154.6 410.1,155.5 410.7,156.3 411.4,157.2 412.0,157.9M416.0,163.2 416.1,163.4 416.7,164.3 417.4,165.2 418.1,166.1 418.7,167.1 419.4,168.0M423.1,173.2 423.2,173.4 423.9,174.4 424.5,175.3 425.2,176.3 425.9,177.3 426.4,178.2M429.9,183.4 429.9,183.5 430.4,184.3 430.9,185.1 431.4,185.9 431.9,186.7 432.4,187.5 432.9,188.3M436.2,193.5 436.3,193.7 436.8,194.5 437.3,195.3 437.8,196.2 438.3,197.0 438.8,197.9 439.1,198.4M442.2,203.8 442.3,203.9 442.8,204.8 443.3,205.7 443.8,206.6 444.3,207.5 444.8,208.4 444.9,208.7M447.8,213.9 447.9,214.1 448.4,215.0 448.9,216.0 449.4,216.9 449.9,217.9 450.4,218.9M453.1,224.3 453.2,224.4 453.7,225.4 454.2,226.4 454.7,227.4 455.2,228.5 455.5,229.1M458.0,234.3 458.1,234.5 458.6,235.6 459.1,236.6 459.6,237.7 460.1,238.7 460.4,239.3M462.8,244.5 462.9,244.7 463.3,245.6 463.7,246.5 464.1,247.3 464.5,248.2 464.9,249.1 465.1,249.6M467.4,254.8 467.5,255.0 467.9,255.9 468.3,256.8 468.7,257.7 469.1,258.6 469.5,259.5 469.6,259.8M471.9,265.1 471.9,265.2 472.3,266.2 472.7,267.1 473.1,268.0 473.5,269.0 473.9,269.9M476.1,275.1 476.2,275.3 476.6,276.3 477.0,277.2 477.4,278.2 477.8,279.1 478.2,280.1 478.3,280.3M480.5,285.8 480.6,285.9 481.0,286.9 481.4,287.9 481.8,288.8 482.2,289.8 482.5,290.5M484.5,295.4 484.5,295.6 484.9,296.5 485.3,297.5 485.7,298.5 486.1,299.5 486.5,300.5 486.6,300.7M488.9,306.5 489.0,306.7 489.4,307.7 489.8,308.7 490.2,309.7 490.6,310.7 490.8,311.2M492.9,316.3 492.9,316.5 493.3,317.5 493.7,318.5 494.1,319.5 494.5,320.5 494.9,321.4M497.0,326.8 497.1,326.9 497.5,327.9 497.9,329.0 498.3,330.0 498.7,331.0 499.0,331.8M501.1,337.2 501.2,337.4 501.6,338.4 502.0,339.4 502.4,340.4 502.8,341.4 503.2,342.4M505.5,348.2 505.6,348.4 506.0,349.4 506.4,350.4 506.8,351.4 507.2,352.4 507.6,353.4M509.9,359.0 509.9,359.2 510.3,360.2 510.7,361.2 511.1,362.2 511.5,363.1 511.7,363.5M513.7,368.4 513.8,368.5 514.2,369.5 514.6,370.5 515.0,371.4 515.4,372.4 515.6,373.1M517.7,378.0 517.8,378.2 518.2,379.1 518.6,380.1 519.0,381.0 519.4,382.0 519.8,382.9 520.0,383.6M522.6,389.5 522.6,389.6 523.0,390.5 523.4,391.5 523.8,392.4 524.2,393.3 524.4,393.6M526.3,398.0 526.4,398.1 526.8,399.0 527.2,399.9 527.6,400.8 528.0,401.7 528.4,402.5 528.6,403.0M531.0,408.2 531.1,408.4 531.6,409.4 532.1,410.5 532.6,411.6 533.1,412.6 533.3,413.1M535.9,418.4 536.0,418.6 536.5,419.6 537.0,420.5 537.5,421.5 538.0,422.5 538.5,423.5M541.3,428.8 541.4,429.0 541.9,429.9 542.4,430.8 542.9,431.7 543.4,432.6 543.9,433.5 544.1,433.8M547.3,439.3 547.4,439.4 547.9,440.2 548.4,441.0 548.9,441.8 549.4,442.6 549.9,443.4 550.4,444.2M554.1,449.7 554.2,449.8 554.9,450.7 555.6,451.7 556.2,452.6 556.9,453.5 557.6,454.3 557.8,454.6M562.1,460.0 562.2,460.1 562.9,460.9 563.6,461.6 564.2,462.4 564.9,463.1 565.6,463.8 566.2,464.5 566.6,464.9M571.7,469.8 571.9,470.0 572.9,470.9 573.9,471.7 574.9,472.5 575.9,473.3 576.4,473.7M581.4,477.1 581.6,477.2 582.6,477.9 583.6,478.4 584.6,479.0 585.6,479.5 586.1,479.8M591.1,482.0 591.2,482.1 592.2,482.5 593.2,482.8 594.2,483.2 595.2,483.5 595.7,483.7M600.7,484.9 600.9,484.9 601.9,485.1 602.9,485.3 603.9,485.5 604.9,485.6 605.9,485.7M611.6,486.2 611.8,486.2 612.8,486.2 613.8,486.2 614.8,486.2 615.8,486.2 616.3,486.2M621.4,486.0 621.6,486.0 622.6,486.0 623.6,485.9 624.6,485.8 625.6,485.7 626.6,485.6M632.3,485.0 632.4,485.0 633.4,484.9 634.4,484.7 635.4,484.6 636.4,484.5 637.4,484.3M643.1,483.6 643.3,483.6 644.3,483.5 645.3,483.3 646.3,483.2 647.3,483.1 648.1,483.0M653.4,482.4 653.6,482.4 654.6,482.3 655.6,482.2 656.6,482.1 657.6,482.0 658.3,482.0M663.6,481.5 663.8,481.5 664.8,481.4 665.8,481.4 666.8,481.3 667.8,481.2 668.4,481.2M673.9,480.8 674.1,480.8 675.1,480.8 676.1,480.7 677.1,480.7 678.1,480.6 678.8,480.6M684.1,480.3 684.3,480.3 685.3,480.3 686.3,480.3 687.3,480.2 688.3,480.2 688.9,480.2M694.3,480.0 694.4,480.0 695.4,479.9 696.4,479.9 697.4,479.8 698.4,479.8 699.1,479.7M704.6,479.5 704.8,479.5 705.8,479.4 706.8,479.4 707.8,479.3 708.8,479.3 709.5,479.2M714.8,479.0 715.0,479.0 716.0,478.9 717.0,478.9 718.0,478.8 719.0,478.8 719.6,478.8M725.0,478.6 725.1,478.6 726.1,478.5 727.1,478.5 728.1,478.5 729.1,478.4 729.8,478.4M735.3,478.4 735.5,478.4 736.5,478.3 737.5,478.3 738.5,478.3 739.5,478.3 740.1,478.3M745.5,478.3 745.6,478.3 746.6,478.3 747.6,478.2 748.6,478.2 749.6,478.2 750.3,478.2" fill="none" stroke="#000" stroke-width="1.15" stroke-linecap="butt"/><g fill="#000"><circle cx="159.84" cy="127.5" r="2.95"/><circle cx="176.92" cy="127.5" r="2.95"/><circle cx="191.98" cy="128.5" r="2.95"/><circle cx="205.46" cy="127.9" r="2.95"/><circle cx="217.65" cy="130.9" r="2.95"/><circle cx="228.78" cy="130.3" r="2.95"/><circle cx="239.02" cy="130.5" r="2.95"/><circle cx="248.49" cy="134.8" r="2.95"/><circle cx="257.32" cy="133.6" r="2.95"/><circle cx="265.57" cy="135.8" r="2.95"/><circle cx="273.33" cy="136.8" r="2.95"/><circle cx="280.64" cy="137.8" r="2.95"/><circle cx="287.55" cy="139" r="2.95"/><circle cx="294.11" cy="141.7" r="2.95"/><circle cx="300.35" cy="142.1" r="2.95"/><circle cx="306.29" cy="143.8" r="2.95"/><circle cx="311.97" cy="147" r="2.95"/><circle cx="317.42" cy="146.5" r="2.95"/><circle cx="322.63" cy="149.2" r="2.95"/><circle cx="327.65" cy="149.2" r="2.95"/><circle cx="332.47" cy="154.7" r="2.95"/><circle cx="337.13" cy="152.7" r="2.95"/><circle cx="341.61" cy="156" r="2.95"/><circle cx="345.94" cy="158.6" r="2.95"/><circle cx="350.13" cy="161.6" r="2.95"/><circle cx="354.18" cy="163.5" r="2.95"/><circle cx="358.12" cy="162" r="2.95"/><circle cx="361.93" cy="166.5" r="2.95"/><circle cx="365.64" cy="167.4" r="2.95"/><circle cx="369.23" cy="171.8" r="2.95"/><circle cx="372.73" cy="174.5" r="2.95"/><circle cx="376.15" cy="173.6" r="2.95"/><circle cx="379.46" cy="175.8" r="2.95"/><circle cx="382.69" cy="181.7" r="2.95"/><circle cx="385.85" cy="182.5" r="2.95"/><circle cx="388.92" cy="186.5" r="2.95"/><circle cx="391.93" cy="188.5" r="2.95"/><circle cx="394.87" cy="190" r="2.95"/><circle cx="397.73" cy="195.3" r="2.95"/><circle cx="400.54" cy="195" r="2.95"/><circle cx="403.29" cy="196.5" r="2.95"/><circle cx="405.98" cy="199" r="2.95"/><circle cx="408.61" cy="202.1" r="2.95"/><circle cx="411.19" cy="205.2" r="2.95"/><circle cx="413.71" cy="208" r="2.95"/><circle cx="416.19" cy="210.4" r="2.95"/><circle cx="418.62" cy="212.7" r="2.95"/><circle cx="421.01" cy="215.9" r="2.95"/><circle cx="423.34" cy="220.8" r="2.95"/><circle cx="434.45" cy="232.9" r="2.95"/><circle cx="454.05" cy="290.6" r="2.95"/><circle cx="471.06" cy="323.6" r="2.95"/><circle cx="486.07" cy="349.4" r="2.95"/><circle cx="499.49" cy="376.1" r="2.95"/><circle cx="511.66" cy="386.5" r="2.95"/><circle cx="522.73" cy="415.7" r="2.95"/><circle cx="532.94" cy="429.4" r="2.95"/><circle cx="542.41" cy="432.6" r="2.95"/><circle cx="551.24" cy="431.6" r="2.95"/><circle cx="559.48" cy="441.1" r="2.95"/><circle cx="567.2" cy="455.1" r="2.95"/><circle cx="574.52" cy="452.6" r="2.95"/><circle cx="581.44" cy="451.5" r="2.95"/><circle cx="587.98" cy="458.1" r="2.95"/><circle cx="594.22" cy="462.4" r="2.95"/><circle cx="600.15" cy="470.5" r="2.95"/><circle cx="605.86" cy="459.8" r="2.95"/><circle cx="611.29" cy="467.1" r="2.95"/><circle cx="616.5" cy="473.5" r="2.95"/><circle cx="639.83" cy="471.6" r="2.95"/><circle cx="676.62" cy="476.9" r="2.95"/><circle cx="705.15" cy="482" r="2.95"/><circle cx="728.49" cy="472.7" r="2.95"/></g><g class="t" fill="#000" text-rendering="geometricPrecision"><text class="s" transform="translate(48.01,65.39) scale(1.000,1)" font-size="19.20" textLength="56.75" lengthAdjust="spacing">0.015</text><text class="s" transform="translate(47.81,204.37) scale(1.000,1)" font-size="19.20" textLength="56.87" lengthAdjust="spacing">0.010</text><text class="s" transform="translate(47.59,343.02) scale(1.000,1)" font-size="19.20" textLength="56.58" lengthAdjust="spacing">0.005</text><text class="s" transform="translate(47.07,481.42) scale(1.000,1)" font-size="19.20" textLength="56.65" lengthAdjust="spacing">0.000</text><text class="s" transform="translate(198.19,558.27) scale(1.000,1)" font-size="19.20">1</text><text class="s" transform="translate(488.39,559.02) scale(1.000,1)" font-size="19.20" textLength="22.67" lengthAdjust="spacing">10</text><text class="s" transform="translate(775.39,558.98) scale(1.000,1)" font-size="19.20" textLength="36.07" lengthAdjust="spacing">100</text><text class="r" transform="translate(370.45,603.60) scale(1.080,1)" font-size="28.40" textLength="75.86" lengthAdjust="spacing" stroke="#000" stroke-width="0.50">Delay</text><text class="r" transform="translate(469.56,603.90) scale(1.080,1)" font-size="28.40" textLength="64.35" lengthAdjust="spacing" stroke="#000" stroke-width="0.50">[ms]</text><text class="r" transform="translate(21.89,388.44) rotate(-90) scale(1.030,1)" font-size="28.40" textLength="230.66" lengthAdjust="spacing" stroke="#000" stroke-width="0.35">Autocovariance</text><text class="r" transform="translate(151.21,471.79) scale(1.120,1)" font-size="18.33" stroke="#000" stroke-width="0.35" font-style="italic">ϕ</text><text class="r" transform="translate(174.56,472.64) scale(1.120,1)" font-size="18.33" textLength="21.65" lengthAdjust="spacing" stroke="#000" stroke-width="0.35">20</text><text class="r" transform="translate(210.34,472.60) scale(1.371,1)" font-size="18.33" stroke="#000" stroke-width="0.35">cm</text><text class="r" transform="translate(152.64,498.10) scale(1.120,1)" font-size="18.33" stroke="#000" stroke-width="0.35">λ</text><text class="r" transform="translate(174.61,497.40) scale(1.120,1)" font-size="18.33" textLength="32.45" lengthAdjust="spacing" stroke="#000" stroke-width="0.35">550</text><text class="r" transform="translate(223.54,498.10) scale(1.367,1)" font-size="18.33" stroke="#000" stroke-width="0.35">nm</text><text class="s" transform="translate(530.21,41.89) scale(0.860,1)" font-size="16.60" textLength="105.02" lengthAdjust="spacing">MEASURED</text><text class="s" transform="translate(639.88,41.90) scale(0.860,1)" font-size="16.60">(</text><text class="s" transform="translate(648.66,41.90) scale(0.860,1)" font-size="16.60">Z</text><text class="s" transform="translate(668.62,41.90) scale(1.303,1)" font-size="16.60">≈</text><text class="s" transform="translate(691.44,41.90) scale(1.050,1)" font-size="16.60" textLength="19.83" lengthAdjust="spacing">25</text><text class="s" transform="translate(722.56,41.90) scale(0.860,1)" font-size="16.60">)</text><text class="s" transform="translate(577.95,62.10) scale(1.050,1)" font-size="16.60" textLength="47.39" lengthAdjust="spacing">sharp</text><text class="s" transform="translate(577.90,82.00) scale(1.050,1)" font-size="16.60" textLength="75.75" lengthAdjust="spacing">apodized</text><text class="s" transform="translate(531.05,122.83) scale(0.860,1)" font-size="16.60" textLength="106.94" lengthAdjust="spacing">SYNTHETIC</text><text class="s" transform="translate(578.95,143.90) scale(1.050,1)" font-size="16.60" textLength="54.63" lengthAdjust="spacing">sharp,</text><text class="s" transform="translate(646.52,143.90) scale(0.860,1)" font-size="16.60">Z</text><text class="s" transform="translate(665.90,143.90) scale(1.266,1)" font-size="16.60">=</text><text class="s" transform="translate(688.49,143.90) scale(1.050,1)" font-size="16.60">0</text><text class="s" transform="translate(579.80,164.25) scale(0.860,1)" font-size="16.60">Z</text><text class="s" transform="translate(599.75,163.80) scale(1.254,1)" font-size="16.60">=</text><text class="s" transform="translate(622.07,163.80) scale(1.050,1)" font-size="16.60" textLength="19.68" lengthAdjust="spacing">35</text><text class="s" transform="translate(653.36,163.80) scale(0.860,1)" font-size="16.60">,</text><text class="s" transform="translate(668.85,163.80) scale(1.050,1)" font-size="16.60" textLength="37.21" lengthAdjust="spacing">wind</text><text class="s" transform="translate(717.83,163.80) scale(1.050,1)" font-size="16.60" textLength="16.06" lengthAdjust="spacing">at</text><text class="s" transform="translate(744.57,163.80) scale(1.050,1)" font-size="16.60" textLength="17.81" lengthAdjust="spacing">20</text><text class="s" transform="translate(579.42,192.40) scale(1.050,1)" font-size="16.60" textLength="82.73" lengthAdjust="spacing">apodized,</text><text class="s" transform="translate(676.10,192.40) scale(0.860,1)" font-size="16.60">Z</text><text class="s" transform="translate(695.24,192.40) scale(1.335,1)" font-size="16.60">=</text><text class="s" transform="translate(718.78,192.40) scale(1.050,1)" font-size="16.60">0</text><text class="s" transform="translate(579.80,213.25) scale(0.860,1)" font-size="16.60">Z</text><text class="s" transform="translate(599.75,212.80) scale(1.254,1)" font-size="16.60">=</text><text class="s" transform="translate(622.07,212.80) scale(1.050,1)" font-size="16.60" textLength="19.68" lengthAdjust="spacing">35</text><text class="s" transform="translate(653.36,212.80) scale(0.860,1)" font-size="16.60">,</text><text class="s" transform="translate(668.85,212.80) scale(1.050,1)" font-size="16.60" textLength="37.21" lengthAdjust="spacing">wind</text><text class="s" transform="translate(717.83,212.80) scale(1.050,1)" font-size="16.60" textLength="16.06" lengthAdjust="spacing">at</text><text class="s" transform="translate(744.57,212.80) scale(1.050,1)" font-size="16.60" textLength="17.81" lengthAdjust="spacing">20</text></g><circle cx="549.7" cy="56.9" r="2.55" fill="#fff" stroke="#000" stroke-width="1.05"/><circle cx="549.7" cy="76.8" r="2.95" fill="#000"/><line x1="532.1" y1="137.3" x2="569.1" y2="137.3" stroke="#000" stroke-width="2.6"/><line x1="532.8" y1="158.25" x2="568.7" y2="158.25" stroke="#000" stroke-width="1.1"/><line x1="532.1" y1="186.7" x2="569.1" y2="186.7" stroke="#000" stroke-width="2.6" stroke-dasharray="4.4 9.2 8.3 8.7 6.4 99"/><line x1="533.1" y1="207" x2="566.7" y2="207" stroke="#000" stroke-width="1.1" stroke-dasharray="3 4.4 4.5 4.4 4.5 4.4 3.7 1.8 2.9 99"/><g fill="none" stroke="#000" stroke-width="1.0"><circle cx="716.75" cy="33.40" r="2.3"/><circle cx="703.30" cy="135.00" r="2.3"/><circle cx="648.00" cy="154.70" r="2.3"/><circle cx="770.45" cy="154.40" r="2.3"/><circle cx="733.00" cy="183.30" r="2.3"/><circle cx="648.00" cy="203.70" r="2.3"/><circle cx="770.45" cy="203.40" r="2.3"/></g></svg>
</body></html>
